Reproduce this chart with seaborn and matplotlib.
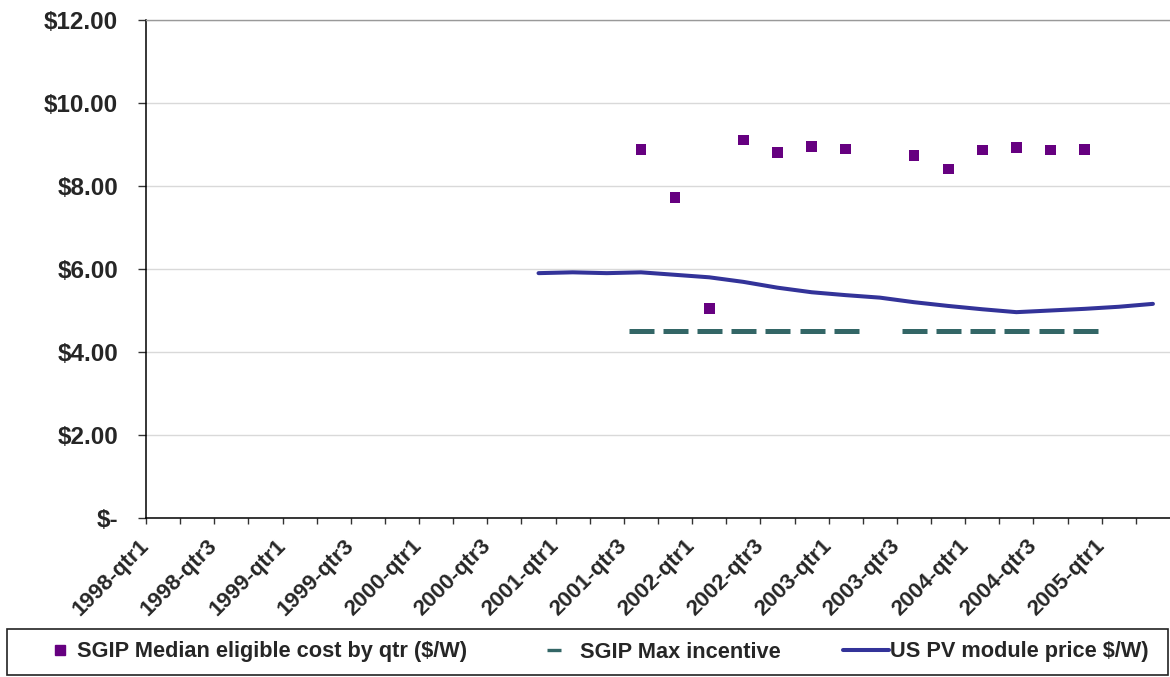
import numpy as np
import pandas as pd
import matplotlib
matplotlib.use("Agg")
import matplotlib.pyplot as plt
from matplotlib.lines import Line2D
from matplotlib.patches import Rectangle
import seaborn as sns

# Quarterly categories on the x axis
quarters = [
    "1998-qtr1", "1998-qtr2", "1998-qtr3", "1998-qtr4",
    "1999-qtr1", "1999-qtr2", "1999-qtr3", "1999-qtr4",
    "2000-qtr1", "2000-qtr2", "2000-qtr3", "2000-qtr4",
    "2001-qtr1", "2001-qtr2", "2001-qtr3", "2001-qtr4",
    "2002-qtr1", "2002-qtr2", "2002-qtr3", "2002-qtr4",
    "2003-qtr1", "2003-qtr2", "2003-qtr3", "2003-qtr4",
    "2004-qtr1", "2004-qtr2", "2004-qtr3", "2004-qtr4",
    "2005-qtr1", "2005-qtr2",
]

# SGIP median eligible cost ($/W)
median_quarters = [
    "2001-qtr3", "2001-qtr4", "2002-qtr1", "2002-qtr2", "2002-qtr3",
    "2002-qtr4", "2003-qtr1", "2003-qtr3", "2003-qtr4", "2004-qtr1",
    "2004-qtr2", "2004-qtr3", "2004-qtr4",
]
median_cost = [8.88, 7.72, 5.04, 9.11, 8.81, 8.96, 8.89,
               8.73, 8.41, 8.87, 8.92, 8.87, 8.88]

# SGIP maximum incentive ($/W)
incentive_quarters = [
    "2001-qtr3", "2001-qtr4", "2002-qtr1", "2002-qtr2", "2002-qtr3",
    "2002-qtr4", "2003-qtr1", "2003-qtr3", "2003-qtr4", "2004-qtr1",
    "2004-qtr2", "2004-qtr3", "2004-qtr4",
]
max_incentive = [4.5, 4.5, 4.5, 4.5, 4.5, 4.5, 4.5,
                 4.5, 4.5, 4.5, 4.5, 4.5, 4.5]

# US PV module price ($/W)
module_quarters = quarters[11:]
module_price = [5.90, 5.92, 5.90, 5.92, 5.86, 5.80, 5.69, 5.55, 5.44, 5.37,
                5.31, 5.20, 5.11, 5.03, 4.96, 5.00, 5.04, 5.09, 5.16]

y_ticks = [0, 2, 4, 6, 8, 10, 12]
y_tick_labels = ["$-", "$2.00", "$4.00", "$6.00", "$8.00", "$10.00", "$12.00"]

label_median = "SGIP Median eligible cost by qtr ($/W)"
label_incentive = "SGIP Max incentive"
label_module = "US PV module price $/W)"

c_median = "#660080"
c_incentive = "#336666"
c_module = "#333399"

sns.set_theme(style="white")
plt.rcParams["font.family"] = ["Liberation Sans", "DejaVu Sans"]
plt.rcParams["font.weight"] = "bold"

pos = {q: i for i, q in enumerate(quarters)}
df_med = pd.DataFrame({"x": [pos[q] for q in median_quarters], "y": median_cost})
df_inc = pd.DataFrame({"x": [pos[q] for q in incentive_quarters], "y": max_incentive})
df_mod = pd.DataFrame({"x": [pos[q] for q in module_quarters], "y": module_price})

fig = plt.figure(figsize=(11.70, 6.77), dpi=100)
ax = fig.add_axes([146 / 1170, 1 - 518 / 677, 1 - 146 / 1170, (518 - 20) / 677])

ax.set_axisbelow(True)
ax.yaxis.grid(True, color="#d9d9d9", linewidth=1)
ax.xaxis.grid(False)

sns.lineplot(data=df_mod, x="x", y="y", ax=ax, color=c_module, linewidth=2.9,
             solid_capstyle="round", solid_joinstyle="round", zorder=3)
sns.lineplot(data=df_inc, x="x", y="y", ax=ax, linestyle="none", marker="_",
             markersize=18, markeredgewidth=3.6, markeredgecolor=c_incentive,
             color=c_incentive, zorder=4)
sns.scatterplot(data=df_med, x="x", y="y", ax=ax, marker="s", s=60,
                color=c_median, edgecolor="none", linewidth=0, zorder=5)

ax.set_xlim(-0.5, len(quarters) - 0.5)
ax.set_ylim(0, 12)
ax.set_xlabel("")
ax.set_ylabel("")

# Ticks on category boundaries, every other one labelled
bounds = np.arange(-0.5, len(quarters) - 1, 1.0)
ax.set_xticks(bounds)
xlabels = [quarters[int(b + 0.5)] if int(b + 0.5) % 2 == 0 else "" for b in bounds]
ax.set_xticklabels(xlabels, rotation=45, ha="right", va="center",
                   rotation_mode="anchor", fontsize=16, fontweight="bold")
ax.set_yticks(y_ticks)
ax.set_yticklabels(y_tick_labels, fontsize=17.5, fontweight="bold")

ax.tick_params(axis="x", direction="out", length=4.5, width=1, color="#333333",
               pad=13, bottom=True)
ax.tick_params(axis="y", direction="out", length=6, width=1, color="#333333",
               pad=14, left=True)

for side in ["left", "bottom"]:
    ax.spines[side].set_color("black")
    ax.spines[side].set_linewidth(1.1)
ax.spines["right"].set_visible(False)
ax.spines["top"].set_color("#999999")
ax.spines["top"].set_linewidth(1)

if ax.get_legend():
    ax.get_legend().remove()

# Legend box along the bottom
fig.patches.append(Rectangle((7 / 1170, 2 / 677), 1161 / 1170, 46 / 677,
                             transform=fig.transFigure, facecolor="white",
                             edgecolor="#222222", linewidth=1.2, zorder=0))

leg_y = 1 - 652 / 677
leg_prop = {"weight": "bold", "size": 15.7}

h1 = Line2D([], [], linestyle="none", marker="s", markersize=6.5,
            markerfacecolor=c_median, markeredgecolor=c_median)
fig.legend([h1], [label_median], loc="center left",
           bbox_to_anchor=(49 / 1170, leg_y), handlelength=1.0,
           handletextpad=0.28, frameon=False, borderpad=0,
           borderaxespad=0, prop=leg_prop)

h2 = Line2D([], [], linestyle="none", marker="_", markersize=10,
            markeredgewidth=2.4, markeredgecolor=c_incentive)
fig.legend([h2], [label_incentive], loc="center left",
           bbox_to_anchor=(543 / 1170, leg_y), handlelength=1.0,
           handletextpad=0.7, frameon=False, borderpad=0,
           borderaxespad=0, prop=leg_prop)

h3 = Line2D([], [], color=c_module, linewidth=2.9, solid_capstyle="round")
fig.legend([h3], [label_module], loc="center left",
           bbox_to_anchor=(843 / 1170, leg_y), handlelength=2.1,
           handletextpad=0.05, frameon=False, borderpad=0,
           borderaxespad=0, prop=leg_prop)

fig.savefig("out.png", dpi=100, facecolor="white")
